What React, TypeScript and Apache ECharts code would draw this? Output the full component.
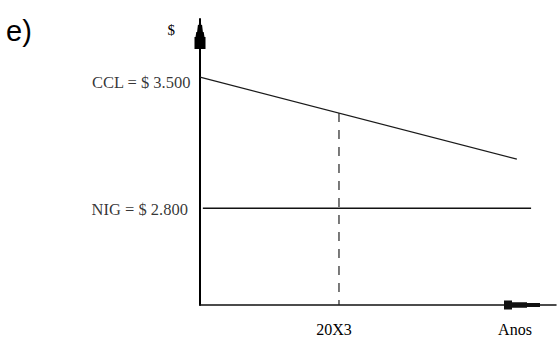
import React, { useEffect, useRef } from "react";
import * as echarts from "echarts";

// Axis extents (value units)
const xMin = 0;
const xMax = 10;
const yMin = 2283;
const yMax = 3810;

// Series values: [time, $]
const cclLine: [number, number][] = [
  [0, 3500],
  [8.9, 3062],
];
const nigLine: [number, number][] = [
  [0.08, 2800],
  [9.3, 2800],
];
const year20X3 = 3.904;
const cclAt20X3 = 3308;
const dashedLine: [number, number][] = [
  [year20X3, cclAt20X3],
  [year20X3, yMin],
];

// Labels
const yLabels = ["CCL = $ 3.500", "NIG = $ 2.800"];
const yLabelValues = [3500, 2800];
const xLabels = ["20X3", "Anos"];
const xLabelValues = [3.764, 8.848];
const panelTitle = "e)";
const yAxisName = "$";

const SERIF = "'Liberation Serif', 'Times New Roman', serif";

const upArrow =
  "path://M5.2,0 L5.8,0 L6.8,6 L7.6,6 L8.4,13 L9.2,13 L10,18 L11,18 L11,30 L0,30 L0,18 L1,18 L1.8,13 L2.6,13 L3.4,6 L4.2,6 Z";
const rightArrow =
  "path://M2.4,0 L6.6,0 L6.6,13 L7.3,13 L7.3,28 L9,28 L9,36 L0,36 L0,28 L1.7,28 L1.7,13 L2.4,13 Z";

export default function App() {
  const ref = useRef<HTMLDivElement>(null);

  useEffect(() => {
    document.body.style.margin = "0";
    if (!ref.current) return;
    const chart = echarts.init(ref.current, null, { renderer: "svg" });
    const labelOffsets: [number, number][] = [
      [-9.5, 5.3],
      [-12, 1.3],
    ];
    chart.setOption({
      animation: false,
      backgroundColor: "#ffffff",
      grid: { left: 200, right: 1, top: 19, bottom: 33 },
      graphic: [
        {
          type: "text",
          left: 6,
          top: 16,
          style: {
            text: panelTitle,
            font: "29px 'Liberation Sans', Arial, sans-serif",
            fill: "#000",
          },
        },
      ],
      xAxis: {
        type: "value",
        min: xMin,
        max: xMax,
        axisLine: {
          show: true,
          symbol: ["none", rightArrow],
          symbolSize: [9, 36],
          symbolOffset: [0, -34],
          lineStyle: { color: "#111", width: 1.5 },
        },
        axisTick: { show: false },
        splitLine: { show: false },
        axisLabel: {
          customValues: xLabelValues,
          margin: 16,
          color: "#000",
          fontFamily: SERIF,
          fontSize: 16,
          formatter: (v: number) => {
            const i = xLabelValues.findIndex((x) => Math.abs(x - v) < 1e-6);
            return i >= 0 ? xLabels[i] : "";
          },
        },
      },
      yAxis: {
        type: "value",
        min: yMin,
        max: yMax,
        name: yAxisName,
        nameLocation: "end",
        nameGap: -11,
        nameTextStyle: {
          fontFamily: SERIF,
          fontSize: 15,
          color: "#000",
          align: "right",
          verticalAlign: "middle",
          padding: [0, 25, 0, 0],
        },
        axisLine: {
          show: true,
          symbol: ["none", upArrow],
          symbolSize: [11, 30],
          symbolOffset: [0, -15],
          lineStyle: { color: "#000", width: 2 },
        },
        axisTick: { show: false },
        splitLine: { show: false },
        axisLabel: { show: false },
      },
      series: [
        {
          type: "line",
          data: cclLine,
          showSymbol: false,
          silent: true,
          lineStyle: { color: "#1a1a1a", width: 1.2 },
        },
        {
          type: "line",
          data: nigLine,
          showSymbol: false,
          silent: true,
          lineStyle: { color: "#111", width: 1.5 },
        },
        {
          type: "line",
          data: dashedLine,
          showSymbol: false,
          silent: true,
          lineStyle: { color: "#222", width: 1.2, type: [9, 8] },
        },
        {
          type: "scatter",
          symbolSize: 0,
          silent: true,
          data: yLabels.map((name, i) => ({
            value: [xMin, yLabelValues[i]],
            name,
            label: { offset: labelOffsets[i] },
          })),
          label: {
            show: true,
            position: "left",
            distance: 0,
            formatter: (p: any) => p.name,
            fontFamily: SERIF,
            fontSize: 16.5,
            color: "#000",
          },
        },
      ],
    });
    return () => chart.dispose();
  }, []);

  return <div ref={ref} style={{ width: 557, height: 338 }} />;
}
